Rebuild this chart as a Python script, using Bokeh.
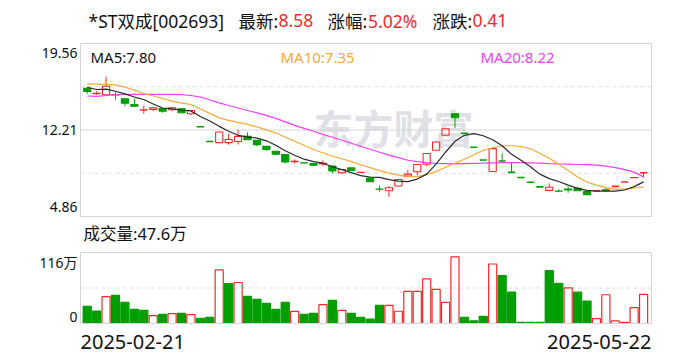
from bokeh.plotting import figure
from bokeh.models import Label, Range1d, ColumnDataSource
from bokeh.embed import file_html
from bokeh.resources import INLINE

# ---------------- data ----------------
stock_name = "*ST双成[002693]"
date_labels = ["2025-02-21", "2025-05-22"]
price_ticks = [19.56, 12.21, 4.86]
vol_max = 116          # 万
vol_tick_labels = ["116万", "0"]

open_ = [15.76, 15.30, 15.20, 15.18, 14.86, 14.38, 13.90, 13.96, 14.04, 13.93,
         14.01, 13.59, 12.48, 11.23, 11.14, 11.14, 11.23, 11.67, 11.33, 10.83,
         10.41, 10.13, 9.52, 9.43, 9.36, 9.32, 9.14, 8.57, 8.99, 8.60,
         8.10, 7.20, 7.05, 7.45, 8.29, 8.66, 9.31, 10.49, 11.76, 13.59,
         11.93, 10.74, 9.66, 8.69, 9.57, 8.61, 8.18, 7.77, 7.38, 7.08,
         7.02, 7.19, 7.25, 6.97, 7.05, 7.12, 7.42, 7.79, 8.15, 8.58]
high = [15.84, 15.50, 16.75, 15.42, 14.86, 14.86, 14.29, 14.15, 14.04, 14.15,
        14.04, 13.87, 12.48, 11.23, 12.04, 11.90, 12.24, 11.99, 11.33, 10.83,
        10.41, 10.13, 9.70, 9.48, 9.36, 9.64, 9.14, 8.86, 8.99, 8.65,
        8.10, 7.47, 7.47, 8.01, 8.80, 9.28, 10.21, 11.25, 12.33, 13.64,
        11.93, 10.74, 9.66, 10.63, 10.22, 9.50, 8.18, 7.77, 7.38, 7.67,
        7.17, 7.40, 7.36, 6.97, 7.05, 7.30, 7.42, 7.79, 8.18, 8.58]
low = [15.28, 15.20, 15.20, 14.78, 14.23, 14.23, 13.59, 13.81, 13.68, 13.81,
       13.68, 13.47, 12.48, 11.23, 11.14, 10.97, 10.97, 11.39, 10.85, 10.43,
       10.10, 9.37, 9.37, 9.36, 9.20, 9.14, 8.52, 8.57, 8.74, 8.57,
       7.81, 6.97, 6.52, 7.40, 8.23, 8.38, 9.14, 10.49, 11.70, 12.41,
       11.93, 10.74, 9.66, 8.69, 9.57, 8.61, 8.18, 7.77, 7.38, 7.08,
       6.94, 6.88, 7.05, 6.72, 7.05, 6.98, 7.42, 7.79, 8.15, 8.15]
close = [15.48, 15.33, 15.93, 15.22, 14.49, 14.23, 13.93, 14.10, 13.81, 14.10,
         13.68, 13.87, 12.48, 11.23, 12.04, 11.40, 11.67, 11.39, 10.97, 10.55,
         10.15, 9.50, 9.56, 9.40, 9.22, 9.38, 8.74, 8.86, 8.77, 8.62,
         7.81, 7.17, 7.30, 8.01, 8.46, 9.28, 10.21, 11.19, 12.32, 13.25,
         11.93, 10.74, 9.66, 10.63, 9.57, 8.61, 8.18, 7.77, 7.38, 7.34,
         7.00, 7.12, 7.05, 6.72, 7.05, 7.07, 7.42, 7.79, 8.17, 8.58]
volume = [28.0, 20.4, 43.8, 45.9, 34.5, 23.2, 21.6, 13.0, 15.0, 16.2,
          16.7, 14.6, 8.6, 10.2, 87.5, 65.3, 67.0, 44.2, 39.4, 32.9,
          23.2, 34.5, 19.9, 15.0, 16.7, 30.8, 37.8, 21.6, 16.7, 10.2,
          7.0, 29.7, 29.7, 20.0, 52.4, 52.4, 72.9, 55.6, 34.5, 109.0,
          10.2, 4.2, 11.8, 97.2, 78.3, 51.2, 2.0, 2.0, 2.0, 86.4,
          65.8, 58.3, 51.2, 36.6, 8.1, 47.0, 4.2, 2.0, 26.0, 47.6]
ma5 = [15.84, 15.65, 15.69, 15.50, 15.28, 15.01, 14.80, 14.42, 14.08, 14.00,
       13.91, 13.83, 13.36, 12.97, 12.52, 12.10, 11.76, 11.63, 11.52, 11.29,
       10.91, 10.45, 10.07, 9.73, 9.52, 9.39, 9.09, 8.84, 8.59, 8.33,
       8.21, 8.18, 8.00, 7.87, 7.83, 8.04, 8.46, 9.31, 10.32, 11.25,
       11.76, 11.90, 11.72, 11.38, 10.87, 10.15, 9.64, 9.09, 8.46, 8.08,
       7.83, 7.53, 7.25, 7.08, 7.02, 7.02, 7.02, 7.11, 7.40, 7.80]
ma10 = [16.13, 16.11, 16.09, 16.05, 15.86, 15.60, 15.31, 15.10, 14.89, 14.67,
        14.50, 14.38, 14.00, 13.62, 13.24, 13.03, 12.86, 12.69, 12.48, 12.22,
        11.97, 11.59, 11.25, 10.91, 10.53, 10.28, 9.98, 9.77, 9.52, 9.26,
        9.01, 8.76, 8.55, 8.38, 8.25, 8.25, 8.42, 8.67, 9.05, 9.39,
        9.73, 10.11, 10.49, 10.70, 10.87, 10.87, 10.79, 10.62, 10.24, 9.81,
        9.31, 8.76, 8.21, 7.79, 7.53, 7.32, 7.19, 7.19, 7.28, 7.35]
ma20 = [15.10, 15.06, 15.14, 15.21, 15.24, 15.24, 15.24, 15.24, 15.24, 15.24,
        15.22, 15.14, 15.01, 14.76, 14.51, 14.29, 14.08, 13.87, 13.66, 13.45,
        13.20, 12.90, 12.60, 12.35, 12.10, 11.84, 11.59, 11.34, 11.08, 10.83,
        10.57, 10.32, 10.07, 9.86, 9.64, 9.52, 9.43, 9.37, 9.35, 9.33,
        9.35, 9.37, 9.39, 9.42, 9.43, 9.43, 9.43, 9.41, 9.39, 9.35,
        9.32, 9.31, 9.28, 9.26, 9.22, 9.14, 9.01, 8.84, 8.63, 8.22]

# ---------------- style ----------------
FONT = "Noto Sans, Noto Sans CJK SC"
RED = "#f22a2a"
GREEN = "#009e00"
TEXT = "#111111"
C_MA5 = "#2b2b2b"
C_MA10 = "#f7a935"
C_MA20 = "#f53ef5"
FRAME = "#d4d4da"
GRID = "#dcdcdc"

n = len(close)
xs = list(range(n))

# ---- layout (page pixels); the canvas sits at the page's top-left corner ----
W, H = 688, 360
X0, X1 = -0.71, 59.84                 # slot range of the two panels
PMAX, PMIN = price_ticks[0], price_ticks[-1]
PX_PER_X = 571 / (X1 - X0)            # panel frame x: 80 .. 651
PK = (PMAX - PMIN) / 173              # price frame y: 43 .. 216
VK = vol_max / 71                     # volume frame y: 252 .. 323
XL = X0 - 80 / PX_PER_X
XR = X1 + (W - 651) / PX_PER_X
YT = PMAX + 43 * PK
YB = PMIN - (H - 216) * PK
VT = vol_max + 252 * VK
VB = -(H - 323) * VK


def px_x(px):
    return XL + px / PX_PER_X


def px_y(py):
    return YT - py * PK


p = figure(width=W, height=H, x_range=Range1d(XL, XR), y_range=Range1d(YB, YT),
           output_backend="svg", toolbar_location=None,
           x_axis_location=None, y_axis_location=None,
           min_border_left=0, min_border_right=0, min_border_top=0, min_border_bottom=0)
p.extra_y_ranges = {"vol": Range1d(VB, VT)}
p.grid.visible = False
p.outline_line_color = None
p.background_fill_color = "white"
p.border_fill_color = "white"


def lab(x, y, text, color=TEXT, size=14, align="left", baseline="middle", font=FONT, **kw):
    p.add_layout(Label(x=x, y=y, text=text, text_color=color, text_font=font,
                       text_font_size=f"{size}px", text_align=align,
                       text_baseline=baseline, **kw))


# grid lines of the price panel (quarter lines)
q1 = (PMAX + price_ticks[1]) / 2
q3 = (PMIN + price_ticks[1]) / 2
p.segment(x0=[X0, X0], x1=[X1, X1], y0=[q1, q3], y1=[q1, q3],
          line_color=GRID, line_dash="4 3", line_width=1)
p.segment(x0=[X0], x1=[X1], y0=[price_ticks[1]], y1=[price_ticks[1]],
          line_color="#d6d6d6", line_width=1)
p.segment(x0=[X0], x1=[X1], y0=[vol_max / 2], y1=[vol_max / 2], y_range_name="vol",
          line_color=GRID, line_dash="4 3", line_width=1)

# watermark
lab(px_x(313), px_y(126), "东方财富", color="#e0e0e6", size=40,
    text_font_style="bold", level="underlay", font="Noto Sans CJK SC")

# candle colours
cand_up = []
for i in range(n):
    if close[i] > open_[i]:
        cand_up.append(True)
    elif close[i] < open_[i]:
        cand_up.append(False)
    else:
        prev = close[i - 1] if i > 0 else open_[i]
        cand_up.append(close[i] >= prev)

BW = 0.76
body = dict(x=[], top=[], bottom=[], fill=[], line=[], alpha=[])
flat = dict(x0=[], x1=[], y=[], c=[])
wick = dict(x=[], y0=[], y1=[], c=[])
for i in range(n):
    c = RED if cand_up[i] else GREEN
    top = max(open_[i], close[i])
    bot = min(open_[i], close[i])
    if top - bot < 0.005:
        flat["x0"].append(i - BW / 2)
        flat["x1"].append(i + BW / 2)
        flat["y"].append(close[i])
        flat["c"].append(c)
    else:
        body["x"].append(i)
        body["top"].append(top)
        body["bottom"].append(bot)
        body["fill"].append(c)
        body["line"].append(c)
        body["alpha"].append(0.0 if cand_up[i] else 1.0)
    if high[i] > top:
        wick["x"].append(i); wick["y0"].append(top); wick["y1"].append(high[i]); wick["c"].append(c)
    if low[i] < bot:
        wick["x"].append(i); wick["y0"].append(low[i]); wick["y1"].append(bot); wick["c"].append(c)

p.segment(x0="x", y0="y0", x1="x", y1="y1", color="c", line_width=1,
          source=ColumnDataSource(wick))
p.vbar(x="x", width=BW, top="top", bottom="bottom", fill_color="fill",
       fill_alpha="alpha", line_color="line", line_width=1.1,
       source=ColumnDataSource(body))
p.segment(x0="x0", y0="y", x1="x1", y1="y", color="c", line_width=1.6,
          source=ColumnDataSource(flat))

p.line(xs, ma20, line_color=C_MA20, line_width=1.2)
p.line(xs, ma10, line_color=C_MA10, line_width=1.2)
p.line(xs, ma5, line_color=C_MA5, line_width=1.2)

# volume bars (colour by change against previous close)
vd = dict(x=[], top=[], fill=[], alpha=[], line=[])
for i in range(n):
    prev = close[i - 1] if i > 0 else open_[i]
    up = close[i] >= prev
    c = RED if up else GREEN
    vd["x"].append(i)
    vd["top"].append(volume[i])
    vd["fill"].append(c)
    vd["alpha"].append(0.0 if up else 1.0)
    vd["line"].append(c)
p.vbar(x="x", width=0.86, top="top", bottom=0, fill_color="fill", fill_alpha="alpha",
       line_color="line", line_width=1.2, y_range_name="vol", source=ColumnDataSource(vd))

# panel frames
p.quad(left=[X0], right=[X1], bottom=[PMIN], top=[PMAX], fill_color=None,
       line_color=FRAME, line_width=1)
p.quad(left=[X0], right=[X1], bottom=[0], top=[vol_max], fill_color=None,
       line_color=FRAME, line_width=1, y_range_name="vol")

# y tick labels
tick_py = [52.5, 129.3, 206.5]
for val, py in zip(price_ticks, tick_py):
    lab(px_x(77), px_y(py), f"{val:.2f}", size=14, align="right")

# title
chg = close[-1] - close[-2]
pct = chg / close[-2] * 100
segs = [(stock_name, TEXT, 88), ("最新:", TEXT, 238), (f"{close[-1]:.2f}", RED, 278),
        ("涨幅:", TEXT, 327), (f"{pct:.2f}%", RED, 367.5),
        ("涨跌:", TEXT, 432), (f"{chg:.2f}", RED, 472)]
for t, col, px in segs:
    lab(px_x(px), px_y(20), t, color=col, size=17.5)

# MA labels
lab(px_x(90), px_y(56.5), f"MA5:{ma5[-1]:.2f}", color=TEXT, size=15)
lab(px_x(280), px_y(56.5), f"MA10:{ma10[-1]:.2f}", color=C_MA10, size=15)
lab(px_x(480), px_y(56.5), f"MA20:{ma20[-1]:.2f}", color=C_MA20, size=15)

# volume caption and labels
lab(px_x(83), px_y(233), f"成交量:{volume[-1]:.1f}万", size=16.5)
lab(px_x(77), px_y(261.5), vol_tick_labels[0], size=14, align="right")
lab(px_x(77), px_y(316), vol_tick_labels[1], size=14, align="right")
lab(X0, px_y(341), date_labels[0], size=20, align="left")
lab(X1, px_y(341), date_labels[1], size=20, align="right")

open("out.html", "w").write(file_html(p, INLINE))
